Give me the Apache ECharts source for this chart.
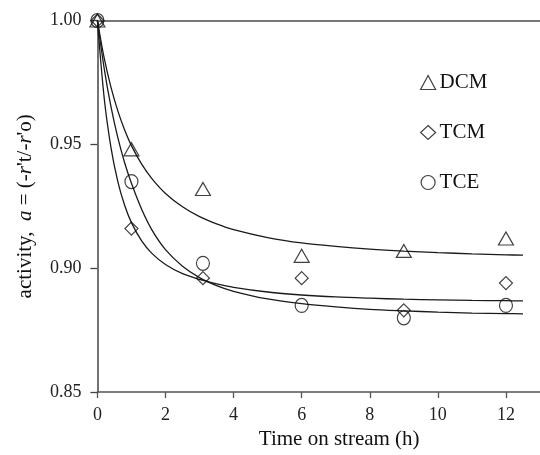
<!DOCTYPE html>
<html>
<head>
<meta charset="utf-8">
<script src="https://cdn.jsdelivr.net/npm/echarts@6/dist/echarts.min.js"></script>
<style>
  html, body { margin: 0; padding: 0; background: #fff; }
  #chart { width: 540px; height: 455px; }
</style>
</head>
<body>
<div id="chart"></div>
<script>
// Measured activity vs time on stream (h)
const timeH = [0, 1, 3.1, 6, 9, 12];
const dcm = [1.000, 0.948, 0.932, 0.905, 0.907, 0.912];
const tcm = [1.000, 0.916, 0.896, 0.896, 0.883, 0.894];
const tce = [1.000, 0.935, 0.902, 0.885, 0.880, 0.885];

// Fitted deactivation curves, sampled along time
const fitT = [0, 0.2, 0.4, 0.6, 0.8, 1.0, 1.3, 1.6, 2.0, 2.5, 3.0, 3.5, 4, 5, 6, 7, 8, 9, 10, 11, 12, 12.5];
const dcmFit = [1.000, 0.9848, 0.9730, 0.9635, 0.9558, 0.9495, 0.9420, 0.9362, 0.9302, 0.9248, 0.9208, 0.9179, 0.9156, 0.9124, 0.9102, 0.9088, 0.9077, 0.9069, 0.9063, 0.9058, 0.9054, 0.9053];
const tcmFit = [1.000, 0.9686, 0.9486, 0.9350, 0.9254, 0.9184, 0.9110, 0.9060, 0.9015, 0.8978, 0.8955, 0.8937, 0.8923, 0.8904, 0.8892, 0.8884, 0.8879, 0.8875, 0.8872, 0.8870, 0.8869, 0.8868];
const tceFit = [1.000, 0.9806, 0.9651, 0.9527, 0.9426, 0.9343, 0.9238, 0.9155, 0.9075, 0.9008, 0.8962, 0.8930, 0.8907, 0.8876, 0.8857, 0.8844, 0.8834, 0.8828, 0.8823, 0.8819, 0.8817, 0.8816];

// Axis ticks
const xTicks = [0, 2, 4, 6, 8, 10, 12];
const yTicks = [0.85, 0.90, 0.95, 1.00];

const serif = '"Liberation Serif", "DejaVu Serif", serif';

const pairs = (xs, ys) => xs.map((x, i) => [x, ys[i]]);

const markerStyle = { color: 'rgba(0,0,0,0)', borderColor: '#111', borderWidth: 1.2 };

function pointSeries(name, symbol, size, values) {
  return {
    name: name,
    type: 'scatter',
    symbol: symbol,
    symbolSize: size,
    itemStyle: markerStyle,
    data: pairs(timeH, values),
    z: 3,
    silent: true
  };
}

function fitSeries(values) {
  return {
    type: 'line',
    data: pairs(fitT, values),
    smooth: 0.3,
    showSymbol: false,
    lineStyle: { color: '#1a1a1a', width: 1.3 },
    z: 2,
    silent: true
  };
}

const chart = echarts.init(document.getElementById('chart'));
chart.setOption({
  animation: false,
  backgroundColor: '#fff',
  grid: { left: 97.4, top: 20.5, bottom: 55.5, right: -9.8 },
  legend: {
    orient: 'vertical',
    left: 420,
    top: 72,
    padding: 0,
    itemGap: 29,
    itemWidth: 15,
    itemHeight: 14,
    itemStyle: { color: 'rgba(0,0,0,0)', borderColor: '#111', borderWidth: 1.2 },
    textStyle: { fontFamily: serif, fontSize: 21, color: '#111', padding: [0, 0, 0, -1] },
    data: ['DCM', 'TCM', 'TCE']
  },
  xAxis: [
    {
      type: 'value',
      min: 0,
      max: 13,
      position: 'bottom',
      name: 'Time on stream (h)',
      nameLocation: 'middle',
      nameGap: 33,
      nameTextStyle: { fontFamily: serif, fontSize: 21, color: '#111', padding: [0, 0, 0, 41] },
      axisLine: { lineStyle: { color: '#555', width: 1.5 } },
      axisTick: { show: true, inside: false, length: 6, customValues: xTicks, lineStyle: { color: '#555', width: 1.3 } },
      axisLabel: { customValues: xTicks, margin: 14, fontFamily: serif, fontSize: 18, color: '#222' },
      splitLine: { show: false }
    },
    {
      type: 'value',
      min: 0,
      max: 13,
      position: 'top',
      axisLine: { show: true, lineStyle: { color: '#777', width: 2 } },
      axisTick: { show: false },
      axisLabel: { show: false },
      splitLine: { show: false }
    }
  ],
  yAxis: {
    type: 'value',
    min: 0.85,
    max: 1.00,
    name: 'activity,  {i|a} = (-{i|r}\'t/-{i|r}\'o)',
    nameLocation: 'middle',
    nameGap: 61,
    nameTextStyle: {
      fontFamily: serif, fontSize: 21, color: '#111',
      rich: { i: { fontFamily: serif, fontSize: 21, fontStyle: 'italic', color: '#111' } }
    },
    axisLine: { show: true, lineStyle: { color: '#444', width: 1.5 } },
    axisTick: { show: true, inside: false, length: 7, customValues: yTicks, lineStyle: { color: '#444', width: 1.3 } },
    axisLabel: {
      customValues: yTicks, margin: 16, fontFamily: serif, fontSize: 18, color: '#222',
      formatter: v => v.toFixed(2)
    },
    splitLine: { show: false }
  },
  series: [
    fitSeries(dcmFit),
    fitSeries(tcmFit),
    fitSeries(tceFit),
    pointSeries('DCM', 'triangle', [15, 13], dcm),
    pointSeries('TCM', 'diamond', [13, 13], tcm),
    pointSeries('TCE', 'circle', [13, 14], tce)
  ]
});
</script>
</body>
</html>
